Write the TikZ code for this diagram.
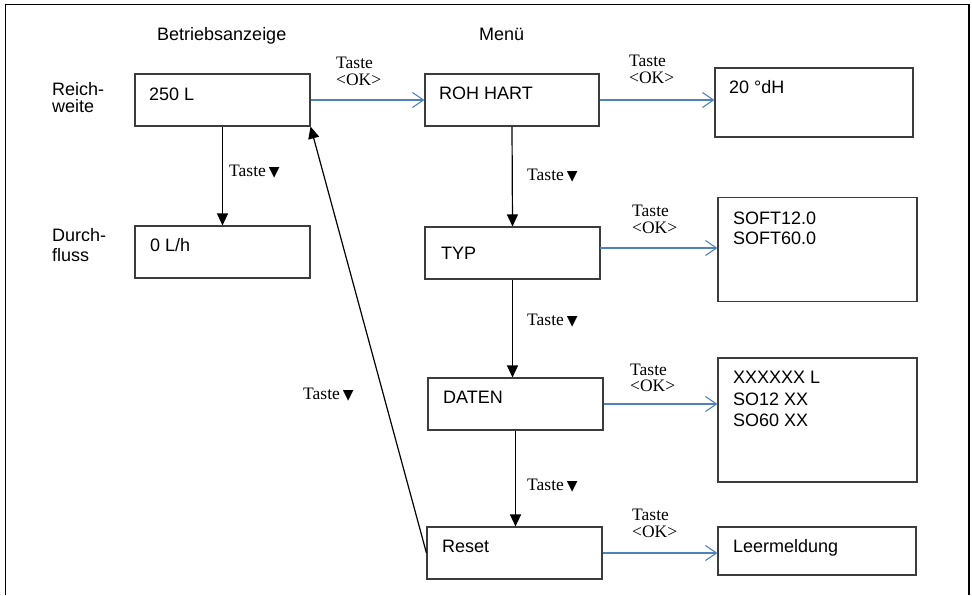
\documentclass[tikz,border=0pt]{standalone}
\usepackage{fontspec}
\setmainfont{Liberation Serif}
\newfontfamily\arial{Liberation Sans}
\newfontfamily\symfont{DejaVu Sans}
\usetikzlibrary{arrows.meta,calc}
\definecolor{okblue}{RGB}{79,129,189}
\definecolor{boxgray}{RGB}{60,60,60}
\newcommand{\tastedown}{Taste\,{\symfont\fontsize{14}{14}\selectfont ▼}}
\begin{document}
\begin{tikzpicture}[x=1pt,y=-1pt,
  box/.style={draw=boxgray, line width=1.1pt, rectangle, inner sep=0pt},
  sans/.style={font=\arial\fontsize{18}{21}\selectfont, inner sep=0pt, anchor=base west},
  ser/.style={font=\fontsize{17.5}{17}\selectfont, inner sep=0pt, anchor=base west},
  downarrow/.style={-{Triangle[length=12pt,width=11pt]}, line width=1.2pt},
  okarrow/.style={-{Straight Barb[length=11pt,width=15pt]}, draw=okblue, line width=1.1pt},
  frame/.style={line width=1.5pt}
]
\useasboundingbox (0,0) rectangle (972,595);
\coordinate (fbl) at (5.5,595);
\coordinate (ftl) at (5.5,4.5);
\coordinate (ftr) at (969,4.5);
\coordinate (fbr) at (969,595);
\draw[frame] (fbl) -- (ftl) -- (ftr) -- (fbr);

% headings
\node[sans] (hbetr) at (157,40.5) {Betriebsanzeige};
\node[sans] (hmenu) at (479,40) {Menü};
\node[sans] (lreich) at (52,95) {Reich-};
\node[sans] (lweite) at (52,112) {weite};
\node[sans] (ldurch) at (52,241.5) {Durch-};
\node[sans] (lfluss) at (52,261.5) {fluss};

% boxes
\node[box, minimum width=175pt, minimum height=52pt] (b250) at (222.5,100) {};
\node[box, minimum width=175pt, minimum height=52pt] (bflow) at (222.5,252) {};
\node[box, minimum width=174pt, minimum height=52pt] (broh) at (512,100) {};
\node[box, minimum width=198pt, minimum height=69pt] (bdh) at (814,102.5) {};
\node[box, minimum width=175pt, minimum height=52pt] (btyp) at (512.5,253) {};
\node[box, minimum width=199pt, minimum height=104pt] (bsoft) at (817.5,249.5) {};
\node[box, minimum width=175pt, minimum height=52pt] (bdaten) at (515.5,404) {};
\node[box, minimum width=199pt, minimum height=124pt] (bxx) at (817.5,420) {};
\node[box, minimum width=175pt, minimum height=52pt] (breset) at (514.5,553) {};
\node[box, minimum width=198pt, minimum height=48pt] (bleer) at (817,551) {};

% box texts
\node[sans] (t250) at (149,100) {250 L};
\node[sans] (tflow) at (150,251) {0 L/h};
\node[sans] (troh) at (439,99.5) {ROH HART};
\node[sans] (tdh) at (729,93) {20 °dH};
\node[sans] (ttyp) at (441,259) {TYP};
\node[sans] (tsoft1) at (733,224) {SOFT12.0};
\node[sans] (tsoft2) at (733,244.5) {SOFT60.0};
\node[sans] (tdaten) at (443,403) {DATEN};
\node[sans] (txx1) at (733,383) {XXXXXX L};
\node[sans] (txx2) at (733,405) {SO12 XX};
\node[sans] (txx3) at (733,426) {SO60 XX};
\node[sans] (treset) at (442,552) {Reset};
\node[sans] (tleer) at (733,552.5) {Leermeldung};

% down arrows
\draw[downarrow] (b250.south) -- (bflow.north);
\draw[downarrow] (broh.south) -- (btyp.north);
\draw[downarrow] (btyp.south) -- (btyp.south |- bdaten.north);
\draw[downarrow] (bdaten.south) -- (bdaten.south |- breset.north);
\draw[downarrow] (breset.west) -- (b250.south east);

% OK arrows
\draw[okarrow] (b250.east) -- (broh.west);
\draw[okarrow] (broh.east) -- (broh.east -| bdh.west);
\coordinate (typok) at (600,248);
\draw[okarrow] (typok) -- (typok -| bsoft.west);
\draw[okarrow] (bdaten.east) -- (bdaten.east -| bxx.west);
\draw[okarrow] (breset.east) -- (breset.east -| bleer.west);

% labels
\node[ser] (k1) at (229,176) {\tastedown};
\node[ser] (k2) at (527,180) {\tastedown};
\node[ser] (k3) at (527,325) {\tastedown};
\node[ser] (k4) at (527,490) {\tastedown};
\node[ser] (k5) at (303,399) {\tastedown};

\node[ser] (o1a) at (336,68.3) {Taste};
\node[ser] (o1b) at (336,85) {<OK>};
\node[ser] (o2a) at (629,66.5) {Taste};
\node[ser] (o2b) at (629,83.3) {<OK>};
\node[ser] (o3a) at (632,216.5) {Taste};
\node[ser] (o3b) at (632,233.2) {<OK>};
\node[ser] (o4a) at (630,375) {Taste};
\node[ser] (o4b) at (630,391.7) {<OK>};
\node[ser] (o5a) at (632,520.5) {Taste};
\node[ser] (o5b) at (632,537.2) {<OK>};
\end{tikzpicture}
\end{document}
